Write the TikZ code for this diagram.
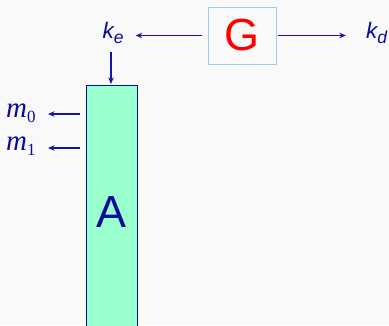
\documentclass[tikz,border=0pt]{standalone}
\usepackage[no-math]{fontspec}
\newfontfamily\lsans{Liberation Sans}
\newfontfamily\lserif{Liberation Serif}
\usetikzlibrary{arrows.meta}
\definecolor{bg}{RGB}{249,249,249}
\definecolor{txtblue}{RGB}{10,10,155}
\definecolor{arrblue}{RGB}{20,20,170}
\definecolor{mint}{RGB}{153,255,204}
\definecolor{lightbox}{RGB}{150,205,250}
\tikzset{
  arr/.style={draw=arrblue, line width=1.1pt, -{Stealth[length=6.5pt,width=5.5pt]}},
  lbl/.style={text=txtblue, inner sep=0pt},
}
\begin{document}
\begin{tikzpicture}[x=1pt,y=-1pt]
\useasboundingbox (0,0) rectangle (389,325);
\clip (0,0) rectangle (389,325);
\fill[bg] (0,0) rectangle (389,325);
% G box
\node[draw=lightbox, line width=1pt, fill=bg, minimum width=68pt, minimum height=57pt, inner sep=0pt,
      text=red, font=\lsans\fontsize{45}{45}\selectfont] (G) at (242,35.5) {G};
% k labels
\node[lbl, anchor=base] (ke) at (113,38) {\lsans\itshape\fontsize{22.5}{22}\selectfont k\raisebox{-5.5pt}{\fontsize{17.5}{17}\selectfont e}};
\node[lbl, anchor=base] (kd) at (376.5,38) {\lsans\itshape\fontsize{22.5}{22}\selectfont k\raisebox{-5.5pt}{\fontsize{17.5}{17}\selectfont d}};
% A column
\node[draw=txtblue, line width=1.1pt, fill=mint, minimum width=51pt, minimum height=254pt, inner sep=0pt,
      anchor=north west] (Abox) at (86,85) {};
\node[lbl, font=\lsans\fontsize{45}{45}\selectfont] (Alabel) at (111.5,212) {A};
% m labels
\node[lbl, anchor=base west] (m0) at (6,117) {\lserif\fontsize{29}{29}\selectfont\itshape m\raisebox{-5pt}{\upshape\fontsize{17}{17}\selectfont 0}};
\node[lbl, anchor=base west] (m1) at (6,150) {\lserif\fontsize{29}{29}\selectfont\itshape m\raisebox{-5pt}{\upshape\fontsize{17}{17}\selectfont 1}};
\coordinate (m0tip) at (48,114);
\coordinate (m1tip) at (48,148);
% arrows
\draw[arr, shorten <=6pt, shorten >=12pt] (G.west) -- (ke.east |- G.west);
\draw[arr, shorten <=1.5pt, shorten >=20pt] (G.east) -- (kd.west |- G.east);
\draw[arr, shorten <=14pt, shorten >=1pt] ([xshift=-2pt]ke.base) -- ([xshift=-2pt]ke.base |- Abox.north);
\draw[arr] ([xshift=-6pt]Abox.west |- m0tip) -- (m0tip);
\draw[arr] ([xshift=-6pt]Abox.west |- m1tip) -- (m1tip);
\end{tikzpicture}
\end{document}
